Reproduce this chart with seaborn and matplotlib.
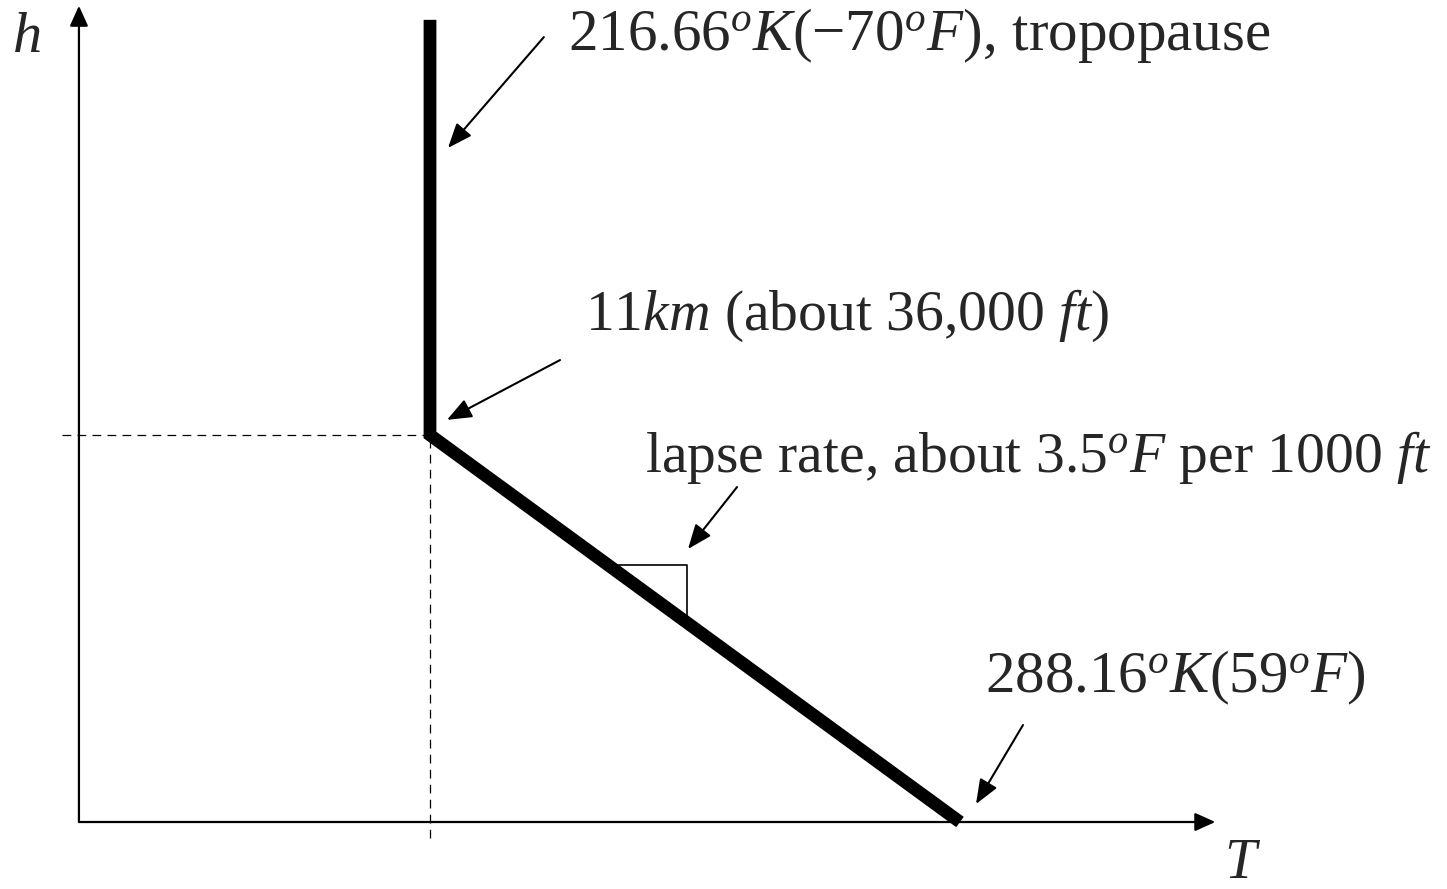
import numpy as np
import pandas as pd
import matplotlib
matplotlib.use("Agg")
import matplotlib.pyplot as plt
import seaborn as sns

# Standard-atmosphere temperature profile (schematic)
temperature_K = [288.16, 216.66, 216.66]   # sea level, tropopause, upper end of sketch
altitude_km = [0.0, 11.0, 22.8]

# Axis frame of the sketch
T_origin, T_axis_end = 169.3, 322.6
h_axis_top = 23.2
T_lim = (158.65, 353.86)
h_lim = (-1.904, 23.364)

profile = pd.DataFrame({"T": temperature_K, "h": altitude_km})

sns.set_style("white")
plt.rcParams["font.family"] = ["Liberation Serif", "DejaVu Serif"]
plt.rcParams["mathtext.fontset"] = "custom"
plt.rcParams["mathtext.rm"] = "Liberation Serif"
plt.rcParams["mathtext.it"] = "Liberation Serif:italic"
plt.rcParams["mathtext.bf"] = "Liberation Serif:bold"

fig = plt.figure(figsize=(14.47, 8.89), dpi=100)
ax = fig.add_axes([0, 0, 1, 1])
ax.set_xlim(*T_lim)
ax.set_ylim(*h_lim)
ax.axis("off")

# Coordinate axes with arrowheads
axis_arrow = dict(arrowstyle="-|>,head_length=0.62,head_width=0.28",
                  color="black", lw=1.6, mutation_scale=20,
                  shrinkA=0, shrinkB=0)
ax.annotate("", xy=(T_axis_end, 0), xytext=(T_origin, 0), arrowprops=axis_arrow)
ax.annotate("", xy=(T_origin, h_axis_top), xytext=(T_origin, 0), arrowprops=axis_arrow)

# Dashed guides to the tropopause corner
T_trop, h_trop = temperature_K[1], altitude_km[1]
ax.plot([167.0, T_trop], [h_trop, h_trop], color="black", lw=0.9,
        ls=(0, (7, 5)))
ax.plot([T_trop, T_trop], [-0.455, h_trop], color="black", lw=0.9,
        ls=(0, (7, 5)))

# Slope triangle on the lapse-rate segment
T_seg = np.array(temperature_K[:2])
h_seg = np.array(altitude_km[:2])
tri_T, tri_h = 251.33, 7.305
T_on_line = np.interp(tri_h, h_seg, T_seg)
h_on_line = np.interp(tri_T, T_seg[::-1], h_seg[::-1])
ax.plot([T_on_line, tri_T, tri_T], [tri_h, tri_h, h_on_line],
        color="black", lw=1.2)

# Temperature profile
sns.lineplot(data=profile, x="T", y="h", sort=False, estimator=None,
             color="black", lw=9.2, ax=ax,
             solid_capstyle="butt", solid_joinstyle="miter")

# Axis names
ax.text(160.3, 21.89, "$h$", fontsize=42, ha="left", va="baseline")
ax.text(323.8, -1.58, "$T$", fontsize=41, ha="left", va="baseline")

# Callouts
note_arrow = dict(arrowstyle="-|>,head_length=0.75,head_width=0.3",
                  color="black", lw=1.5, mutation_scale=20,
                  shrinkA=0, shrinkB=0)
ax.annotate("", xy=(219.09, 19.16), xytext=(232.02, 22.31), arrowprops=note_arrow)
ax.text(235.28, 21.94, r"$216.66^{o}K(-70^{o}F)$, tropopause",
        fontsize=42.5, ha="left", va="baseline")

ax.annotate("", xy=(218.95, 11.43), xytext=(234.20, 13.13), arrowprops=note_arrow)
ax.text(237.57, 13.98, r"11$km$ (about 36,000 $ft$)",
        fontsize=41.5, ha="left", va="baseline")

ax.annotate("", xy=(251.47, 7.76), xytext=(258.08, 9.52), arrowprops=note_arrow)
ax.text(245.66, 9.95, r"lapse rate, about 3.5$^{o}F$ per 1000 $ft$",
        fontsize=41.5, ha="left", va="baseline")

ax.annotate("", xy=(290.32, 0.512), xytext=(296.66, 2.757), arrowprops=note_arrow)
ax.text(291.53, 3.695, r"$288.16^{o}K(59^{o}F)$",
        fontsize=42.5, ha="left", va="baseline")

fig.savefig("out.png", dpi=100, facecolor="white")
